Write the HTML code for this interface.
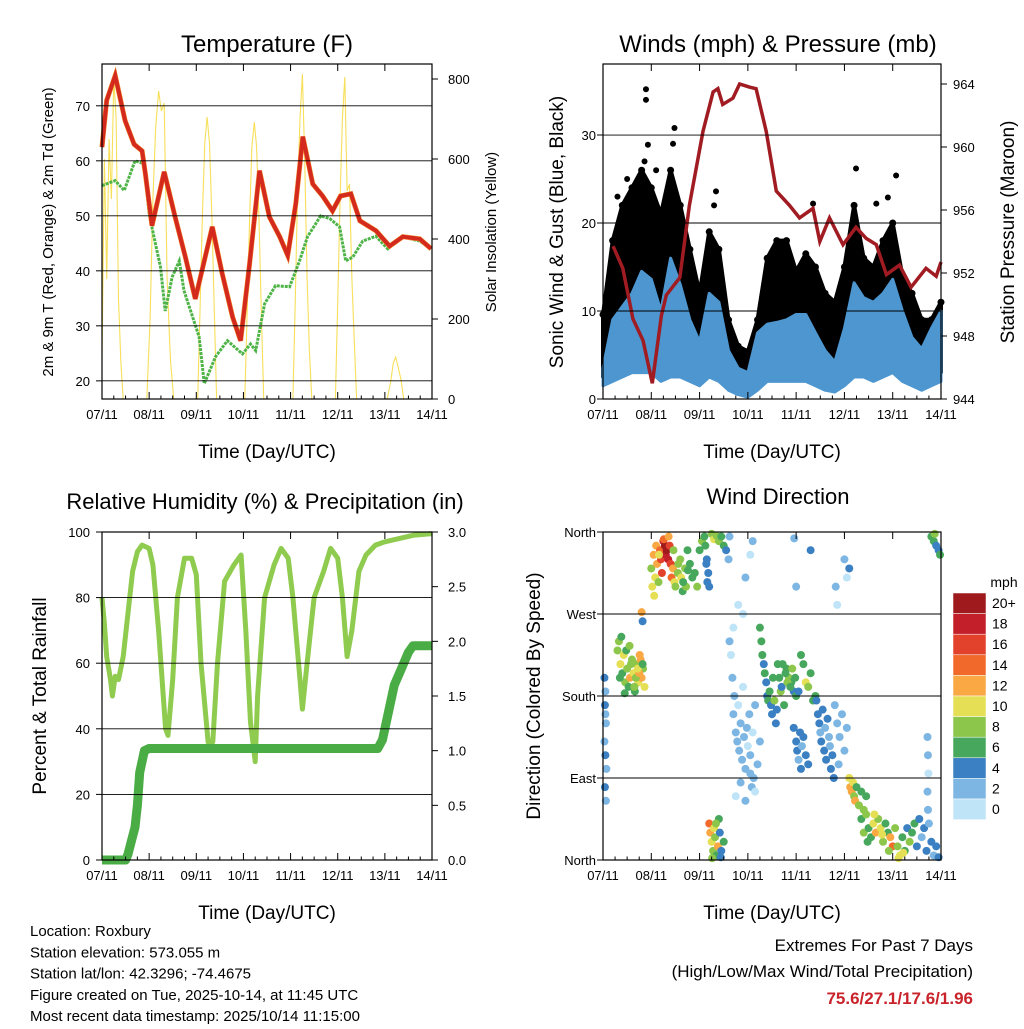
<!DOCTYPE html>
<html><head><meta charset="utf-8">
<style>
html,body{margin:0;padding:0;background:#fff;}
svg text{font-family:"Liberation Sans",Arial,sans-serif;fill:#000;}
</style></head>
<body>
<svg id="chart" width="1024" height="1024" viewBox="0 0 1024 1024" xmlns="http://www.w3.org/2000/svg"></svg>
<script>
// ---------- DATA ----------
const dayLabels = ["07/11","08/11","09/11","10/11","11/11","12/11","13/11","14/11"];
// Temperature (F), time in days since 07/11 00 UTC
const tempTimes = [0,0.1,0.28,0.49,0.68,0.85,0.92,1.06,1.32,1.55,1.77,1.98,2.34,2.55,2.77,2.94,3.13,3.34,3.55,3.77,3.94,4.11,4.26,4.47,4.68,4.89,5.06,5.28,5.47,5.81,6.1,6.38,6.74,6.98];
const tempValues = [62.5,71,75.5,67.3,63,61.8,57.6,48.2,58,49.8,42.5,34.9,48,39.5,31.6,27.3,41.3,58.2,49.8,46.2,42.8,52.2,64.4,55.8,53.6,50.9,53.6,54,49.1,47.3,44.5,46.2,45.8,44];
const dewTimes = [0,0.28,0.47,0.7,0.89,1.0,1.1,1.24,1.34,1.49,1.64,1.74,2.06,2.17,2.41,2.66,2.98,3.15,3.26,3.45,3.68,3.98,4.19,4.36,4.64,4.83,5.04,5.17,5.32,5.53,5.81,6.06,6.38,6.74,6.98];
const dewValues = [55.5,56.4,54.6,60,59.5,50.4,46.2,40.7,32.7,38.9,41.8,36.4,28,19.5,24.4,27.3,24.9,26.7,25.5,34,37.3,37.1,41.8,46.2,50,49.5,48,41.8,42.5,45.4,46.3,44,46.2,45.4,44];
const solarTimes = [0,0.05,0.1,0.15,0.2,0.25,0.3,0.35,0.4,0.45,
 0.95,1.02,1.08,1.14,1.2,1.26,1.32,1.38,1.45,1.52,
 2.03,2.08,2.13,2.18,2.23,2.28,2.33,2.38,2.43,
 3.03,3.08,3.13,3.18,3.23,3.28,3.33,3.38,3.43,
 4.05,4.1,4.15,4.2,4.25,4.3,4.35,4.4,4.45,
 4.95,5.0,5.05,5.1,5.15,5.2,5.25,5.3,5.35,5.4,
 6.05,6.12,6.18,6.23,6.28,6.34,6.4];
const solarValues = [100,600,300,650,500,805,700,250,90,0,
 0,200,500,680,770,720,740,300,100,0,
 0,230,460,640,705,640,460,230,0,
 0,220,450,630,692,630,450,220,0,
 0,250,520,700,812,600,300,120,0,
 0,240,500,700,805,520,537,300,150,0,
 0,40,90,105,80,50,0];
// Winds (mph) & pressure (mb)
const pressTimes = [0.21,0.41,0.62,0.83,1.02,1.21,1.31,1.59,1.79,2.07,2.28,2.38,2.48,2.69,2.83,3.04,3.17,3.38,3.59,3.86,4.07,4.35,4.49,4.69,4.97,5.24,5.45,5.66,5.87,6.14,6.38,6.69,6.9,7.0];
const pressValues = [953.7,952.3,949.1,947.7,945.0,949.3,950.6,951.7,956.3,961,963.5,963.7,962.7,963.1,964,963.8,963.7,961,957.2,956.3,955.5,956.1,954,955.5,953.8,954.9,954.2,953.8,951.9,952.5,951.1,952.3,951.8,952.7];
const windTimes = [0,0.2,0.4,0.6,0.8,1.0,1.2,1.4,1.6,1.8,2.0,2.2,2.4,2.6,2.8,3.0,3.2,3.4,3.6,3.8,4.0,4.2,4.4,4.6,4.8,5.0,5.2,5.4,5.6,5.8,6.0,6.2,6.4,6.6,6.8,7.0];
const sustainedHigh = [3.5,9,10.5,12,14.5,13.6,10,16,13,9,6.5,12,11,5.5,3.5,3,7.5,8.5,8.7,9,9.6,9.6,7.5,5.5,4.2,8,13.2,11.5,11,12,13.6,10,7,5.7,8,10];
const sustainedLow = [1.5,2,2.5,3,3,3,2,2.5,2.5,2,1.5,2.5,2,1,0.5,0.2,1,2,2,2,2,2,1.5,1,0.8,1.5,2.5,2.5,2,2.5,3,2,1.5,1,1.5,2];
const gustHigh = [9.6,18,22,24,26,24,21,26,22,17,12,19,17,9,6,5.4,9,16,18,18,14.5,16.5,15,12,11,15,22,16,15,18,20,14,12,9,9,11];
const gustOutlierTimes = [0.89,0.89,0.93,0.86,1.48,1.45,2.34,2.3,5.24,6.07,4.35,5.66,5.9,1.1,0.5,0.3];
const gustOutlierValues = [35.2,34,28.9,27,30.8,29,23.6,22,26.2,25.4,22.2,22.2,22.9,26,25,23];
// Relative humidity (%) & precipitation (in)
const rhTimes = [0,0.05,0.1,0.18,0.22,0.28,0.35,0.45,0.55,0.65,0.75,0.85,1.0,1.08,1.2,1.35,1.4,1.5,1.6,1.75,1.9,2.0,2.1,2.25,2.35,2.45,2.6,2.8,2.95,3.05,3.15,3.25,3.3,3.45,3.65,3.8,3.95,4.05,4.2,4.25,4.35,4.5,4.7,4.85,5.0,5.1,5.2,5.3,5.45,5.6,5.8,6.0,6.3,6.6,7.0];
const rhValues = [80,72,62,55,50,56,55,62,75,88,94,96,95,90,70,40,38,55,80,92,92,87,60,36,36,60,85,90,93,70,42,30,50,80,90,95,92,80,55,46,60,80,88,95,92,80,62,70,88,93,96,97,98,99,99.5];
const precipTimes = [0,0.5,0.55,0.7,0.75,0.8,0.9,1.0,5.85,5.95,6.05,6.2,6.35,6.5,6.6,7.0];
const precipValues = [0,0,0.05,0.3,0.5,0.8,1.0,1.02,1.02,1.1,1.3,1.6,1.75,1.9,1.96,1.96];
// Wind direction (deg) and speed (mph) observations
const dirTimes = [
 0.03,0.05,0.04,0.06,0.03,0.05,0.07,0.04,0.06,0.05,
 .3,.33,.36,.4,.43,.46,.5,.53,.56,.6,.63,.66,.7,.73,.76,.8,.83,.86,.38,.48,.58,.68,.78,.45,.65,.75,.35,.55,.72,.82,
 1.0,1.02,1.05,1.08,1.1,1.12,1.15,1.18,1.2,1.22,1.25,1.28,1.3,1.32,1.35,1.38,1.4,1.42,1.45,1.48,1.5,1.55,1.6,1.62,1.65,1.7,1.72,1.75,1.8,1.85,1.9,1.95,1.06,1.16,1.26,1.36,1.46,1.56,1.66,1.76,
 2.0,2.05,2.1,2.12,2.15,2.18,2.2,2.25,2.3,2.35,2.4,2.45,2.5,2.55,2.6,2.14,2.16,
 2.2,2.22,2.25,2.28,2.3,2.32,2.35,2.38,2.4,2.42,2.45,2.5,2.26,2.34,2.44,
 2.62,2.65,2.68,2.7,2.72,2.75,2.78,2.8,2.82,2.85,2.88,2.9,2.92,2.95,2.98,3.0,3.03,3.05,3.08,3.1,3.12,3.15,3.2,3.25,2.75,2.85,2.95,3.05,3.15,2.7,2.9,
 3.25,3.28,3.3,3.33,3.35,3.38,3.4,3.42,3.45,3.48,3.5,3.52,3.55,3.58,3.6,3.62,3.65,3.68,3.7,3.75,3.8,3.85,3.9,3.95,4.0,
 3.72,3.78,3.82,3.88,3.92,3.98,4.05,4.1,4.15,4.2,4.25,4.3,4.35,4.4,
 3.95,4.0,4.02,4.05,4.08,4.1,4.12,4.15,4.2,4.25,
 4.42,4.45,4.48,4.5,4.52,4.55,4.58,4.6,4.62,4.65,4.68,4.7,4.72,4.75,4.8,4.85,4.9,4.95,5.0,5.05,4.78,4.88,
 5.1,5.12,5.15,5.18,5.2,5.22,5.25,5.3,5.35,5.4,5.45,
 5.35,5.4,5.45,5.5,5.55,5.6,5.65,5.7,5.75,5.8,5.85,5.9,5.95,6.0,6.05,5.48,5.62,5.78,5.92,
 6.1,6.15,6.2,6.25,6.3,6.35,6.4,6.45,6.5,6.55,6.6,6.65,6.7,6.75,6.8,6.85,6.9,6.95,6.12,6.22,
 6.72,6.73,6.74,6.72,6.73,
 6.8,6.85,6.9,6.95,6.98,6.87,
 3.1,3.05,2.95,2.8,2.62,3.96,4.0,5.0,5.05,4.85,4.82,5.1,4.3,
 0.8,0.82];
const dirDegrees = [
 200,185,170,150,130,115,100,80,65,160,
 230,240,215,205,225,195,210,190,200,220,205,185,215,195,225,200,210,190,245,230,215,200,220,183,190,205,200,235,210,215,
 320,300,335,310,345,325,305,340,330,315,350,345,335,340,330,345,325,310,320,305,300,315,330,310,295,320,300,340,325,310,315,300,290,335,352,355,340,325,305,318,
 340,350,355,345,330,315,300,358,352,356,350,355,345,340,330,325,305,
 40,30,20,10,35,25,5,15,45,30,10,20,2,40,3,
 240,225,200,160,180,140,130,170,120,150,110,190,135,100,145,125,160,115,80,140,90,170,105,130,70,85,65,95,75,255,270,
 255,240,225,215,205,195,180,175,185,170,160,200,175,150,165,215,200,185,190,170,210,200,195,185,180,
 215,205,195,190,210,200,185,225,215,195,190,205,175,180,
 145,130,120,110,140,100,125,135,115,105,
 175,160,150,140,130,165,120,145,110,155,135,125,100,115,170,150,135,160,120,145,90,105,
 90,80,75,85,70,65,80,60,75,55,70,
 45,30,50,35,25,40,30,45,35,20,40,30,25,15,35,20,50,28,10,
 15,5,25,10,35,20,30,40,15,45,25,35,10,40,20,5,15,3,2,8,
 135,115,95,75,55,
 355,350,345,340,335,358,
 350,335,310,280,355,353,300,330,310,280,300,320,340,
 272,262];
const dirSpeeds = [
 4,3,4,3,2,4,3,4,3,2,
 8,9,10,7,11,8,9,7,12,8,10,7,9,11,13,12,8,10,7,6,9,8,12,7,8,13,6,9,10,7,
 8,10,12,11,13,12,9,14,17,16,18,20,19,21,18,17,16,14,12,10,9,8,8,10,7,9,8,7,6,7,6,8,10,11,14,13,8,9,7,6,
 6,8,7,6,5,4,5,9,10,8,9,7,6,4,3,4,5,
 15,12,10,9,11,8,7,13,6,5,4,6,8,9,5,
 2,1,3,2,2,3,2,1,2,3,2,1,2,3,2,1,2,3,2,1,2,3,2,2,1,2,3,2,1,1,0,
 6,7,6,5,7,5,4,6,7,5,4,6,8,5,4,6,7,8,5,6,7,9,6,5,7,
 7,6,8,7,9,6,5,7,6,10,8,7,6,7,
 4,5,4,3,5,4,3,4,5,4,
 4,5,4,3,5,4,4,3,5,4,2,3,4,5,3,2,3,2,3,2,4,2,
 11,12,13,10,9,12,7,8,6,9,7,
 7,8,9,6,7,10,13,8,11,9,7,6,12,14,8,6,10,11,9,
 9,10,7,6,5,8,7,6,5,4,3,4,5,3,4,3,5,4,10,11,
 2,2,1,2,2,
 7,6,5,4,6,8,
 2,1,2,1,2,3,2,3,1,1,2,4,4,
 12,4];
const speedLabels = ["20+","18","16","14","12","10","8","6","4","2","0"];
const speedColors = ["#9e1a1d","#c21f2a","#e2412c","#f26a2b","#f9a844","#e5df55","#8cc64b","#47a85d","#3b80c2","#7db6e2","#bfe4f7"];

// ---------- HELPERS ----------
const NS = "http://www.w3.org/2000/svg";
const svg = document.getElementById("chart");
function mk(tag, attrs, name, parent) {
  const el = document.createElementNS(NS, tag);
  for (const k in attrs) el.setAttribute(k, attrs[k]);
  
  
  (parent || svg).appendChild(el);
  return el;
}
function txt(x, y, s, size, name, anchor, extra) {
  const t = mk("text", Object.assign({x:x, y:y, "font-size":size, "text-anchor":anchor||"middle"}, extra||{}), name);
  t.textContent = s;
  return t;
}
function panel(p) {
  p.X = d => p.x0 + (d / 7) * (p.x1 - p.x0);
  p.YL = v => p.y1 - (v - p.lmin) / (p.lmax - p.lmin) * (p.y1 - p.y0);
  p.YR = v => p.y1 - (v - p.rmin) / (p.rmax - p.rmin) * (p.y1 - p.y0);
  return p;
}
function linePath(xs, ys, X, Y) {
  return xs.map((t, i) => (i ? "L" : "M") + X(t).toFixed(1) + "," + Y(ys[i]).toFixed(1)).join("");
}
function bandPath(xs, hi, lo, X, Y) {
  let d = linePath(xs, hi, X, Y);
  for (let i = xs.length - 1; i >= 0; i--) d += "L" + X(xs[i]).toFixed(1) + "," + Y(lo[i]).toFixed(1);
  return d + "Z";
}
function frame(p, key) {
  mk("rect", {x:p.x0, y:p.y0, width:p.x1-p.x0, height:p.y1-p.y0, fill:"none", stroke:"#000", "stroke-width":1.2}, key + "-frame");
  for (let i = 0; i < dayLabels.length; i++) {
    const x = p.X(i);
    mk("line", {x1:x, y1:p.y1, x2:x, y2:p.y1-7, stroke:"#000"}, key + "-x-tick");
    mk("line", {x1:x, y1:p.y0, x2:x, y2:p.y0+7, stroke:"#000"}, key + "-x-tick-top");
    txt(x, p.y1 + 20, dayLabels[i], 13, key + "-x-tick-label");
    if (i < 7) for (let k = 1; k < 4; k++) {
      const xm = p.X(i + k / 4);
      mk("line", {x1:xm, y1:p.y1, x2:xm, y2:p.y1-3.5, stroke:"#000"}, key + "-x-minor-tick");
    }
  }
  txt((p.x0+p.x1)/2, p.y1 + 59, "Time (Day/UTC)", 19, key + "-x-axis-title");
}
function gridLeft(p, key, vals, labels, lx) {
  vals.forEach((v, i) => {
    const y = p.YL(v);
    if (y > p.y0 + 1 && y < p.y1 - 1) mk("line", {x1:p.x0, y1:y, x2:p.x1, y2:y, stroke:"#000", "stroke-width":0.9}, key + "-gridline");
    mk("line", {x1:p.x0-6, y1:y, x2:p.x0, y2:y, stroke:"#000"}, key + "-y-tick");
    txt(lx, y + 5, labels[i], 13, key + "-y-tick-label", "end");
  });
}
function ticksRight(p, key, vals, labels, rx) {
  vals.forEach((v, i) => {
    const y = p.YR(v);
    mk("line", {x1:p.x1, y1:y, x2:p.x1+6, y2:y, stroke:"#000"}, key + "-y2-tick");
    txt(rx, y + 5, labels[i], 13, key + "-y2-tick-label", "start");
  });
}
function vlabel(x, y, s, size, name) {
  txt(x, y, s, size, name, "middle", {transform:"rotate(-90 " + x + " " + y + ")"});
}

// ---------- PANEL 1: TEMPERATURE ----------
const p1 = panel({x0:102, x1:432, y0:64, y1:399, lmin:16.7, lmax:77.6, rmin:0, rmax:837.5});
const g1 = mk("g", {}, "temperature-chart");
mk("path", {d:linePath(solarTimes, solarValues, p1.X, p1.YR), fill:"none", stroke:"#f7df5a", "stroke-width":1.1}, "solar-insolation-line", g1);
mk("path", {d:linePath(dewTimes, dewValues, p1.X, p1.YL), fill:"none", stroke:"#4fb447", "stroke-width":3, "stroke-dasharray":"3 1"}, "dewpoint-line", g1);
mk("path", {d:linePath(tempTimes, tempValues, p1.X, p1.YL), fill:"none", stroke:"#f28a2e", "stroke-width":5}, "temp-9m-line", g1);
mk("path", {d:linePath(tempTimes, tempValues, p1.X, p1.YL), fill:"none", stroke:"#d42a1e", "stroke-width":4}, "temp-2m-line", g1);
frame(p1, "temp");
gridLeft(p1, "temp", [20,30,40,50,60,70], ["20","30","40","50","60","70"], 90);
ticksRight(p1, "temp", [0,200,400,600,800], ["0","200","400","600","800"], 448);
txt(267, 52, "Temperature (F)", 24, "temperature-title");
vlabel(53, 232, "2m & 9m T (Red, Orange) & 2m Td (Green)", 15, "temperature-y-axis-title");
vlabel(496, 232, "Solar Insolation (Yellow)", 15, "solar-y-axis-title");

// ---------- PANEL 2: WINDS ----------
const p2 = panel({x0:603, x1:941, y0:64, y1:399, lmin:0, lmax:38.07, rmin:944, rmax:965.27});
const g2 = mk("g", {}, "winds-chart");
const gustBandLow = sustainedLow.map(v => v + 1);
mk("path", {d:bandPath(windTimes, gustHigh, gustBandLow, p2.X, p2.YL), fill:"#000", stroke:"#000", "stroke-width":4, "stroke-linejoin":"round"}, "gust-scatter-band", g2);
gustHigh.forEach((v, i) => mk("circle", {cx:p2.X(windTimes[i]), cy:p2.YL(v), r:3.5, fill:"#000"}, "gust-point", g2));
gustOutlierTimes.forEach((t, i) => mk("circle", {cx:p2.X(t), cy:p2.YL(gustOutlierValues[i]), r:3, fill:"#000"}, "gust-outlier-point", g2));
mk("path", {d:bandPath(windTimes, sustainedHigh, sustainedLow, p2.X, p2.YL), fill:"#4d96d0", stroke:"#4d96d0", "stroke-width":3, "stroke-linejoin":"round"}, "sustained-wind-band", g2);
mk("path", {d:linePath(pressTimes, pressValues, p2.X, p2.YR), fill:"none", stroke:"#a01c22", "stroke-width":3.5}, "pressure-line", g2);
frame(p2, "winds");
gridLeft(p2, "winds", [0,10,20,30], ["0","10","20","30"], 596);
ticksRight(p2, "winds", [944,948,952,956,960,964], ["944","948","952","956","960","964"], 953);
txt(778, 52, "Winds (mph) & Pressure (mb)", 24, "winds-title");
vlabel(563, 232, "Sonic Wind & Gust (Blue, Black)", 19, "wind-y-axis-title");
vlabel(1014, 232, "Station Pressure (Maroon)", 19, "pressure-y-axis-title");

// ---------- PANEL 3: RH & PRECIP ----------
const p3 = panel({x0:102, x1:432, y0:532, y1:860, lmin:0, lmax:100, rmin:0, rmax:3});
const g3 = mk("g", {}, "humidity-chart");
mk("path", {d:linePath(rhTimes, rhValues, p3.X, p3.YL), fill:"none", stroke:"#8fcb4f", "stroke-width":5, "stroke-linejoin":"round"}, "humidity-line", g3);
mk("path", {d:linePath(precipTimes, precipValues, p3.X, p3.YR), fill:"none", stroke:"#4aac44", "stroke-width":9, "stroke-linejoin":"round"}, "precipitation-line", g3);
frame(p3, "rh");
gridLeft(p3, "rh", [0,20,40,60,80,100], ["0","20","40","60","80","100"], 90);
ticksRight(p3, "rh", [0,0.5,1,1.5,2,2.5,3], ["0.0","0.5","1.0","1.5","2.0","2.5","3.0"], 448);
txt(265, 509, "Relative Humidity (%) & Precipitation (in)", 22, "humidity-title");
vlabel(46, 696, "Percent & Total Rainfall", 19, "humidity-y-axis-title");

// ---------- PANEL 4: WIND DIRECTION ----------
const p4 = panel({x0:603, x1:941, y0:532, y1:860, lmin:0, lmax:360, rmin:0, rmax:360});
const g4 = mk("g", {}, "wind-direction-chart");
frame(p4, "dir");
gridLeft(p4, "dir", [0,90,180,270,360], ["North","East","South","West","North"], 596);
dirTimes.forEach((t, i) => {
  const idx = Math.min(10, Math.floor(dirSpeeds[i] / 2));
  mk("circle", {cx:p4.X(t), cy:p4.YL(dirDegrees[i]), r:4, fill:speedColors[10-idx]}, "direction-point", g4);
});
txt(778, 504, "Wind Direction", 22, "wind-direction-title");
vlabel(540, 696, "Direction (Colored By Speed)", 19, "direction-y-axis-title");
// colorbar
txt(1004, 587, "mph", 14, "colorbar-title");
speedLabels.forEach((lab, i) => {
  mk("rect", {x:953, y:593 + i*20.6, width:33, height:20.6, fill:speedColors[i], stroke:"#fff", "stroke-width":0.5}, "colorbar-swatch");
  txt(992, 608 + i*20.6, lab, 14, "colorbar-label", "start");
});

// ---------- FOOTER ----------
const foot = ["Location: Roxbury","Station elevation: 573.055 m","Station lat/lon: 42.3296; -74.4675","Figure created on Tue, 2025-10-14, at 11:45 UTC","Most recent data timestamp: 2025/10/14 11:15:00"];
foot.forEach((s, i) => txt(30, 936 + i*21.3, s, 15, "station-info-line", "start"));
txt(973, 951, "Extremes For Past 7 Days", 17, "extremes-title", "end");
txt(973, 977, "(High/Low/Max Wind/Total Precipitation)", 17, "extremes-subtitle", "end");
txt(973, 1004, "75.6/27.1/17.6/1.96", 17, "extremes-values", "end", {fill:"#c9232b", "font-weight":"bold", style:"fill:#c9232b"});
</script>
</body></html>
